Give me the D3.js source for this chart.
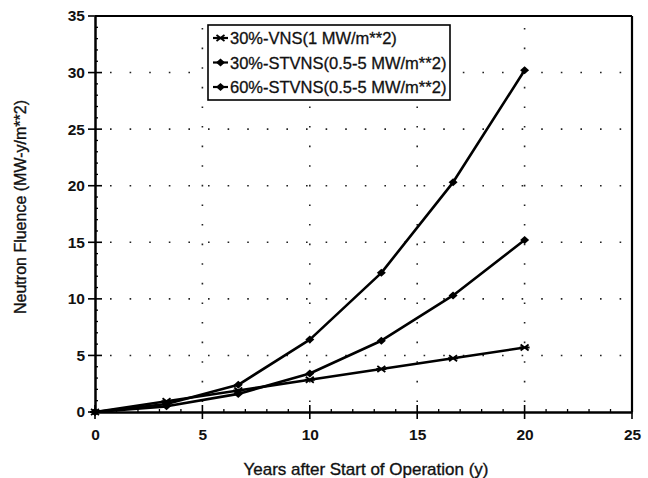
<!DOCTYPE html>
<html><head><meta charset="utf-8">
<script src="https://cdn.jsdelivr.net/npm/d3@7"></script>
<style>body{margin:0;background:#fff;}text{font-family:"Liberation Sans",Arial,sans-serif;fill:#111;}</style>
</head><body>
<svg id="c" width="648" height="478"></svg>
<script>
const years = [0, 3.33, 6.67, 10, 13.33, 16.67, 20];
const vns30 = [0, 0.95, 1.9, 2.85, 3.8, 4.75, 5.7];
const stvns30 = [0, 0.5, 1.6, 3.4, 6.3, 10.3, 15.2];
const stvns60 = [0, 0.7, 2.4, 6.4, 12.3, 20.3, 30.2];
const seriesNames = ["30%-VNS(1 MW/m**2)", "30%-STVNS(0.5-5 MW/m**2)", "60%-STVNS(0.5-5 MW/m**2)"];
const xTicks = [0, 5, 10, 15, 20, 25];
const yTicks = [0, 5, 10, 15, 20, 25, 30, 35];

const svg = d3.select("#c");
const L = 95, R = 632, T = 16, B = 412;
const x = d3.scaleLinear().domain([0, 25]).range([L, R]);
const y = d3.scaleLinear().domain([0, 35]).range([B, T]);

// grid (dotted)
const grid = svg.append("g").attr("stroke", "#222").attr("stroke-width", 1.6).attr("stroke-dasharray", "1.6,18");
xTicks.filter(v => v > 0 && v < 25).forEach(v => grid.append("line").attr("x1", x(v)).attr("x2", x(v)).attr("y1", B - 10).attr("y2", T));
yTicks.filter(v => v > 0 && v < 35).forEach(v => grid.append("line").attr("x1", L + 15).attr("x2", R).attr("y1", y(v)).attr("y2", y(v)));

// frame
svg.append("line").attr("x1", L).attr("x2", R).attr("y1", T).attr("y2", T).attr("stroke", "#000").attr("stroke-width", 2.2);
svg.append("line").attr("x1", R).attr("x2", R).attr("y1", T).attr("y2", B).attr("stroke", "#000").attr("stroke-width", 2.2);

// axes
const xAxis = d3.axisBottom(x).tickValues(xTicks).tickSize(0).tickPadding(17);
const gx = svg.append("g").attr("transform", `translate(0,${B})`).call(xAxis);
gx.select(".domain").attr("stroke", "#000").attr("stroke-width", 2.5);
gx.selectAll("text").attr("font-size", 15.5).attr("font-weight", "bold").attr("fill", "#111");
xTicks.forEach(v => svg.append("line").attr("x1", x(v)).attr("x2", x(v)).attr("y1", B - 7).attr("y2", B + 7).attr("stroke", "#000").attr("stroke-width", 1.6));
d3.range(1, 25).filter(v => v % 5 !== 0).forEach(v => svg.append("line").attr("x1", x(v)).attr("x2", x(v)).attr("y1", B - 3).attr("y2", B).attr("stroke", "#000").attr("stroke-width", 1.3));

const yAxis = d3.axisLeft(y).tickValues(yTicks).tickSize(0).tickPadding(10);
const gy = svg.append("g").attr("transform", `translate(${L},0)`).call(yAxis);
gy.select(".domain").attr("stroke", "#000").attr("stroke-width", 2.5);
gy.selectAll("text").attr("font-size", 15.5).attr("font-weight", "bold").attr("fill", "#111");
yTicks.forEach(v => svg.append("line").attr("x1", L - 7).attr("x2", L + 7).attr("y1", y(v)).attr("y2", y(v)).attr("stroke", "#000").attr("stroke-width", 1.6));
d3.range(1, 35).filter(v => v % 5 !== 0).forEach(v => svg.append("line").attr("x1", L).attr("x2", L + 3).attr("y1", y(v)).attr("y2", y(v)).attr("stroke", "#000").attr("stroke-width", 1.3));

// titles
svg.append("text").attr("x", 366).attr("y", 475).attr("text-anchor", "middle").attr("font-size", 17).attr("stroke", "#111").attr("stroke-width", 0.35).text("Years after Start of Operation (y)");
svg.append("text").attr("transform", `translate(26,207) rotate(-90)`).attr("text-anchor", "middle").attr("font-size", 16).attr("stroke", "#111").attr("stroke-width", 0.35).text("Neutron Fluence (MW-y/m**2)");

// series
const line = d3.line().x(d => x(d[0])).y(d => y(d[1]));
const allSeries = [vns30, stvns30, stvns60];
const markerType = ["cross", "dot", "dot"];
function drawMarker(g, cx, cy, type) {
  if (type === "cross") {
    g.append("path").attr("d", `M${cx-4},${cy-3}L${cx+4},${cy+3}M${cx-4},${cy+3}L${cx+4},${cy-3}M${cx-5},${cy}L${cx+5},${cy}`).attr("stroke", "#000").attr("stroke-width", 1.8).attr("fill", "none");
  } else {
    g.append("path").attr("d", `M${cx},${cy-4}L${cx+4.5},${cy}L${cx},${cy+4}L${cx-4.5},${cy}Z`).attr("fill", "#000");
  }
}
allSeries.forEach((vals, i) => {
  const pts = years.map((yr, j) => [yr, vals[j]]);
  svg.append("path").datum(pts).attr("d", line).attr("fill", "none").attr("stroke", "#000").attr("stroke-width", 2.6).attr("stroke-linejoin", "round");
  const g = svg.append("g");
  pts.forEach(p => drawMarker(g, x(p[0]), y(p[1]), markerType[i]));
});

// legend
const lg = svg.append("g");
lg.append("rect").attr("x", 208).attr("y", 25).attr("width", 242).attr("height", 75).attr("fill", "#fff").attr("stroke", "#000").attr("stroke-width", 1.6);
seriesNames.forEach((name, i) => {
  const cy = 38 + i * 24.5;
  lg.append("line").attr("x1", 213).attr("x2", 228).attr("y1", cy).attr("y2", cy).attr("stroke", "#000").attr("stroke-width", 2.2);
  drawMarker(lg, 220.5, cy, markerType[i]);
  lg.append("text").attr("x", 230).attr("y", cy + 6).attr("font-size", 16.5).attr("stroke", "#111").attr("stroke-width", 0.3).text(name);
});
</script>
</body></html>
